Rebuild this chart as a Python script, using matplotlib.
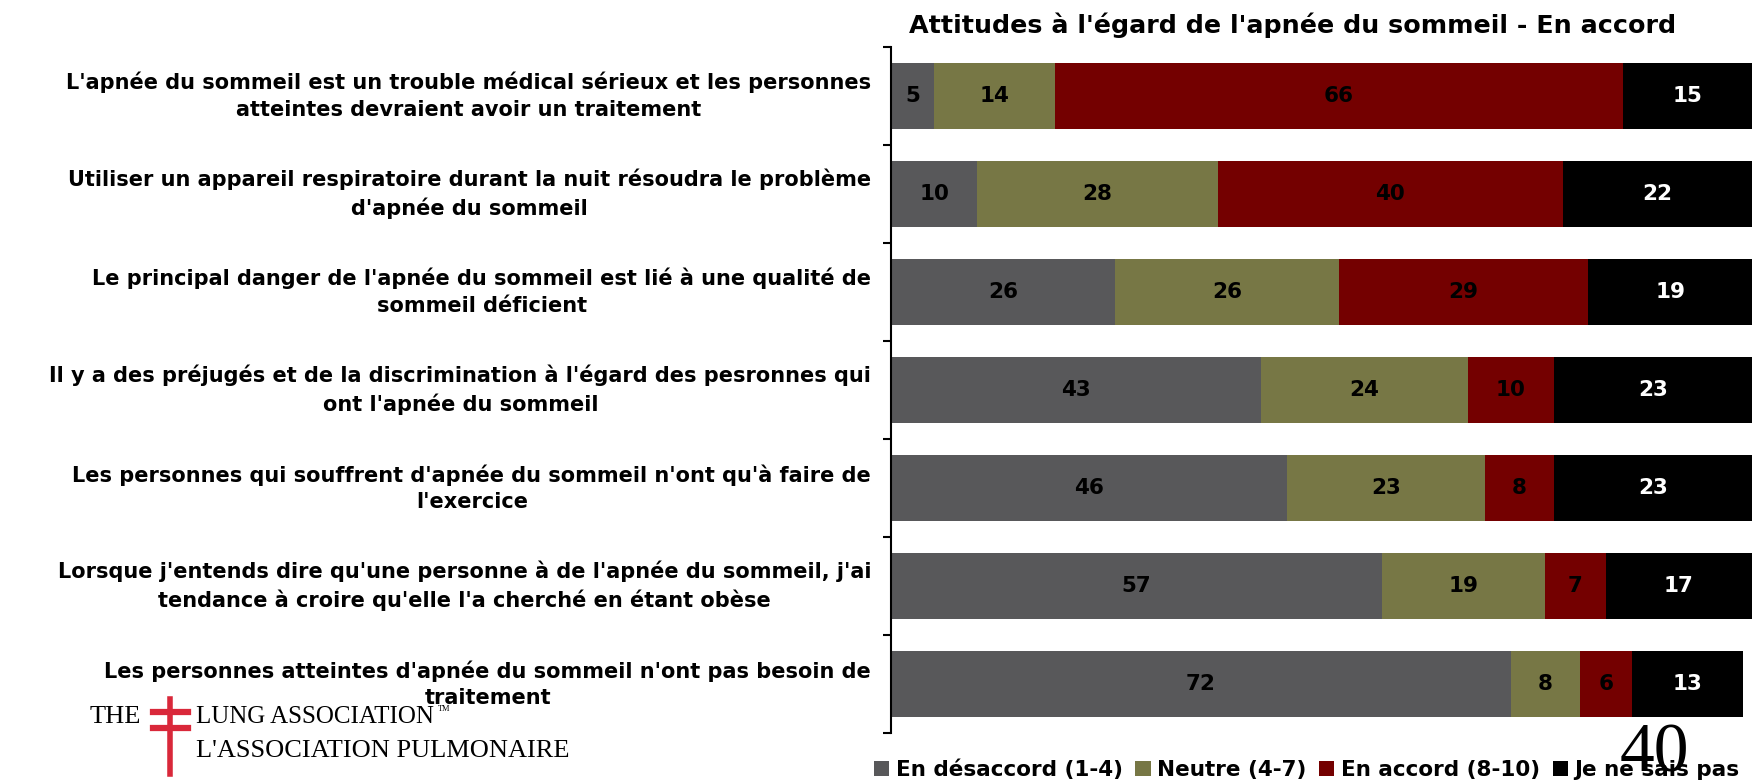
import numpy as np
import matplotlib.pyplot as plt

statements = [
    "L'apnée du sommeil est un trouble médical sérieux et les personnes\natteintes devraient avoir un traitement",
    "Utiliser un appareil respiratoire durant la nuit résoudra le problème\nd'apnée du sommeil",
    "Le principal danger de l'apnée du sommeil est lié à une qualité de\nsommeil déficient",
    "Il y a des préjugés et de la discrimination à l'égard des pesronnes qui\nont l'apnée du sommeil",
    "Les personnes qui souffrent d'apnée du sommeil n'ont qu'à faire de\nl'exercice",
    "Lorsque j'entends dire qu'une personne à de l'apnée du sommeil, j'ai\ntendance à croire qu'elle l'a cherché en étant obèse",
    "Les personnes atteintes d'apnée du sommeil n'ont pas besoin de\ntraitement",
]
desaccord = [5, 10, 26, 43, 46, 57, 72]
neutre = [14, 28, 26, 24, 23, 19, 8]
accord = [66, 40, 29, 10, 8, 7, 6]
nsp = [15, 22, 19, 23, 23, 17, 13]

series = ["En désaccord (1-4)", "Neutre (4-7)", "En accord (8-10)", "Je ne sais pas"]
colors = ["#58585a", "#777745", "#740000", "#000000"]
text_colors = ["black", "black", "black", "white"]

fig = plt.figure(figsize=(17.54, 7.82), dpi=100)
ax = fig.add_axes([0.508, 0.0627, 0.4909, 0.8773])

y = np.arange(len(statements))
left = np.zeros(len(statements))
handles = []
for vals, name, c, tc in zip([desaccord, neutre, accord, nsp], series, colors, text_colors):
    vals = np.array(vals, dtype=float)
    bars = ax.barh(y, vals, left=left, height=0.67, color=c, label=name)
    ax.bar_label(bars, labels=[str(int(v)) for v in vals], label_type='center',
                 color=tc, fontsize=15.5, fontweight='bold')
    handles.append(bars)
    left += vals

ax.set_xlim(0, 100)
ax.set_ylim(len(statements) - 0.5, -0.5)
ax.set_xticks([])
ax.set_yticks(np.arange(-0.5, len(statements)), [])
ax.tick_params(axis='y', which='major', length=6, width=1.5, direction='out')
# category labels, centred block right-aligned next to the axis
for yi, txt in zip(y, statements):
    ax.text(-0.023, yi, txt, transform=ax.get_yaxis_transform(),
            ha='right', va='center', multialignment='center', linespacing=1.4,
            fontsize=15, fontweight='bold')
for s in ['top', 'right', 'bottom']:
    ax.spines[s].set_visible(False)
ax.spines['left'].set_linewidth(1.5)

fig.text(0.737, 0.968, "Attitudes à l'égard de l'apnée du sommeil - En accord",
         ha='center', va='center', fontsize=18.3, fontweight='bold')

fig.legend(handles, series, loc='center', bbox_to_anchor=(0.745, 0.016), ncol=4,
           frameon=False, handlelength=0.7, handleheight=0.7, handletextpad=0.3,
           columnspacing=0.6, prop={'weight': 'bold', 'size': 15.5})

# page number
fig.text(0.943, 0.014, "40", family='Liberation Serif', fontsize=50, ha='center', va='baseline')

# logo
red = '#d9283a'
fig.text(0.051, 0.083, "THE", family='Liberation Serif', fontsize=19, ha='left', va='center')
fig.add_artist(plt.Line2D([0.097, 0.097], [0.01, 0.106], color=red, lw=4, transform=fig.transFigure))
fig.add_artist(plt.Line2D([0.087, 0.107], [0.089, 0.089], color=red, lw=4.5, transform=fig.transFigure))
fig.add_artist(plt.Line2D([0.087, 0.107], [0.069, 0.069], color=red, lw=4.5, transform=fig.transFigure))
fig.text(0.112, 0.083, "LUNG ASSOCIATION", family='Liberation Serif', fontsize=18, ha='left', va='center')
fig.text(0.2495, 0.093, "TM", family='Liberation Serif', fontsize=6, ha='left', va='center')
fig.text(0.112, 0.040, "L'ASSOCIATION PULMONAIRE", family='Liberation Serif', fontsize=19, ha='left', va='center')

fig.savefig('out.png', dpi=100)
